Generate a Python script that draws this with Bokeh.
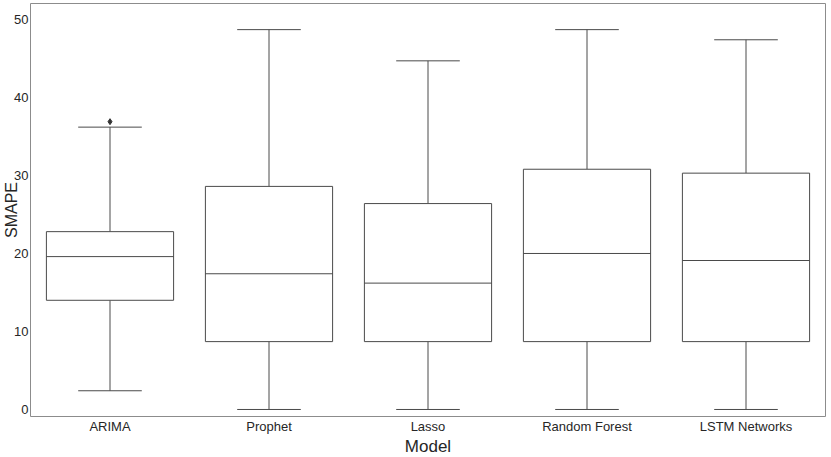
from bokeh.plotting import figure
from bokeh.models import Range1d, FixedTicker
from bokeh.embed import file_html
from bokeh.resources import INLINE

models = ["ARIMA", "Prophet", "Lasso", "Random Forest", "LSTM Networks"]
lower = [2.4, 0.0, 0.0, 0.0, 0.0]
q1 = [14.0, 8.7, 8.7, 8.7, 8.7]
median = [19.6, 17.4, 16.2, 20.0, 19.1]
q3 = [22.8, 28.6, 26.4, 30.8, 30.3]
upper = [36.2, 48.7, 44.7, 48.7, 47.4]
outlier_model = ["ARIMA"]
outlier_value = [36.9]

LINE = "#4a4a4a"
FONT = "Liberation Sans"

xs = [i + 0.5 for i in range(len(models))]
ox = [models.index(m) + 0.5 for m in outlier_model]

p = figure(width=823, height=449, frame_width=795, frame_height=413,
           output_backend="svg", toolbar_location=None,
           x_range=Range1d(0, len(models)), y_range=Range1d(-0.9, 52.05),
           min_border_top=3, min_border_right=1, min_border_left=0, min_border_bottom=0)

p.background_fill_color = "white"
p.outline_line_color = "#8c8c8c"
p.outline_line_width = 1
p.xgrid.visible = False
p.ygrid.visible = False

# whiskers
p.segment(x0=xs, y0=q3, x1=xs, y1=upper, line_color=LINE, line_width=1)
p.segment(x0=xs, y0=q1, x1=xs, y1=lower, line_color=LINE, line_width=1)
# caps
p.segment(x0=[x - 0.2 for x in xs], y0=upper, x1=[x + 0.2 for x in xs], y1=upper, line_color=LINE, line_width=1)
p.segment(x0=[x - 0.2 for x in xs], y0=lower, x1=[x + 0.2 for x in xs], y1=lower, line_color=LINE, line_width=1)
# boxes
p.vbar(x=xs, width=0.8, bottom=q1, top=q3, fill_color="white", line_color=LINE, line_width=1)
# medians
p.segment(x0=[x - 0.4 for x in xs], y0=median, x1=[x + 0.4 for x in xs], y1=median, line_color=LINE, line_width=1)
# outliers
p.scatter(x=ox, y=outlier_value, marker="diamond", size=6, fill_color="#333333", line_color="#333333")

p.xaxis.ticker = FixedTicker(ticks=xs)
p.xaxis.major_label_overrides = {x: m for x, m in zip(xs, models)}
p.yaxis.ticker = FixedTicker(ticks=[0, 10, 20, 30, 40, 50])

for ax in (p.xaxis, p.yaxis):
    ax.axis_line_color = None
    ax.major_tick_line_color = None
    ax.minor_tick_line_color = None
    ax.major_tick_out = 0
    ax.major_tick_in = 0
    ax.major_label_text_font = FONT
    ax.major_label_text_font_size = "13px"
    ax.major_label_text_color = "#262626"
    ax.axis_label_text_font = FONT
    ax.axis_label_text_font_size = "16px"
    ax.axis_label_text_font_style = "normal"
    ax.axis_label_text_color = "#262626"
    ax.major_label_standoff = 2

p.xaxis.axis_label_standoff = 0
p.xaxis.axis_label_text_font_size = "17px"
p.yaxis.axis_label_standoff = -9

p.xaxis.axis_label = "Model"
p.yaxis.axis_label = "SMAPE"

open("out.html", "w").write(file_html(p, INLINE))
